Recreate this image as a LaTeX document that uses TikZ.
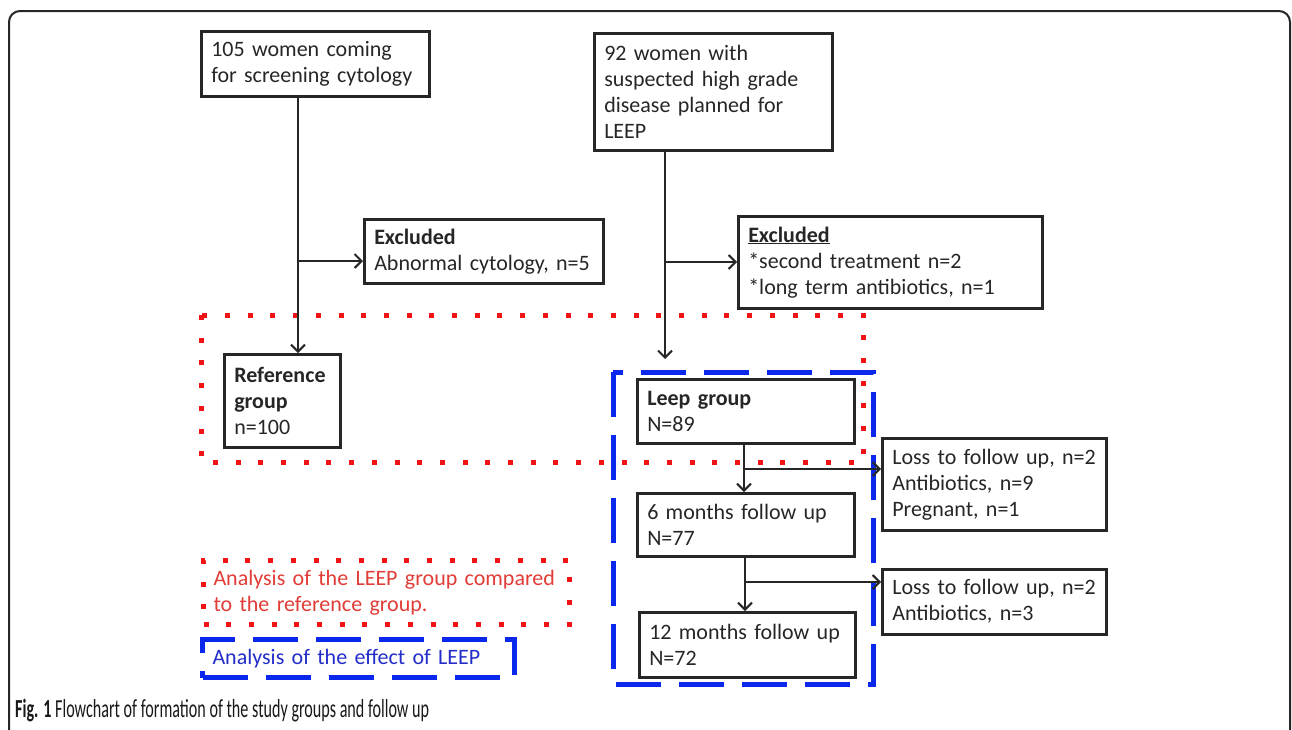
\documentclass[tikz,border=0pt]{standalone}
\usepackage{fontspec}
\setmainfont{Carlito}
\newfontfamily\capfont[FakeStretch=0.62]{Carlito}
\usetikzlibrary{arrows.meta}
\definecolor{dotred}{RGB}{240,20,20}
\definecolor{dashblue}{RGB}{10,40,235}
\definecolor{txtred}{RGB}{225,60,55}
\definecolor{txtblue}{RGB}{35,45,200}
\tikzstyle{box} = [rectangle, draw=black!85, line width=2.5pt, anchor=north west, inner xsep=10pt, inner ysep=0pt, align=left, text=black!85, font=\fontsize{22}{26}\selectfont]
\tikzstyle{arrow} = [line width=2pt, draw=black!85, -{Straight Barb[length=7pt,width=14pt]}]
\tikzstyle{reddots} = [draw=dotred, line width=5pt, dash pattern=on 5pt off 17.7pt]
\tikzstyle{bluedash} = [draw=dashblue, line width=5pt, dash pattern=on 45pt off 18pt]
\begin{document}
\begin{tikzpicture}[x=1pt, y=-1pt]
\useasboundingbox (0,0) rectangle (1292,729);
\clip (0,0) rectangle (1292,729);
\draw[line width=2pt, draw=black!85, rounded corners=11pt] (9,740) -- (9,11) -- (1290,11) -- (1290,740);

% FRAMES
\draw[reddots] (201,315) rectangle (863,462);
\draw[bluedash] (613,372) rectangle (873,684);

% NODES
\node (screening) [box, minimum width=228pt, minimum height=65pt, text width=208pt] at (200,30) {105 women coming\\for screening cytology};
\node (excl-screen) [box, minimum width=239pt, minimum height=64pt, text width=219pt] at (363,218) {\textbf{Excluded}\\Abnormal cytology, n=5};
\node (refgroup) [box, minimum width=116pt, minimum height=93pt, text width=96pt] at (223,353) {\textbf{Reference}\\\textbf{group}\\n=100};

\node (highgrade) [box, minimum width=238pt, minimum height=117pt, text width=218pt] at (593,32) {92 women with\\suspected high grade\\disease planned for\\LEEP};
\node (excl-leep) [box, minimum width=304pt, minimum height=92pt, text width=284pt] at (737,215) {\underline{\textbf{Excluded}}\\{*}second treatment n=2\\{*}long term antibiotics, n=1};

\node (leep) [box, minimum width=217pt, minimum height=64pt, text width=197pt] at (636,378) {\textbf{Leep group}\\N=89};
\node (six) [box, minimum width=217pt, minimum height=63pt, text width=197pt] at (636,492) {6 months follow up\\N=77};
\node (twelve) [box, minimum width=216pt, minimum height=65pt, text width=196pt] at (638,611) {12 months follow up\\N=72};
\node (lost-six) [box, minimum width=224pt, minimum height=92pt, text width=204pt] at (881,437) {Loss to follow up, n=2\\Antibiotics, n=9\\Pregnant, n=1};
\node (lost-twelve) [box, minimum width=224pt, minimum height=65pt, text width=204pt] at (881,568) {Loss to follow up, n=2\\Antibiotics, n=3};

\node (leg-red) [box, reddots, text=txtred, minimum width=366pt, minimum height=64pt, text width=346pt, inner xsep=10pt] at (201,558) {Analysis of the LEEP group compared\\to the reference group.};
\node (leg-blue) [box, bluedash, text=txtblue, minimum width=312pt, minimum height=38pt, text width=292pt, inner xsep=10pt] at (200,637) {Analysis of the effect of LEEP};

\node (caption) [anchor=west, inner sep=0pt, text=black!90, font=\capfont\fontsize{26}{28}\selectfont] at (15,711) {\textbf{Fig. 1} Flowchart of formation of the study groups and follow up};

\coordinate (split1) at (298,261);
\coordinate (split2) at (665,262);
\coordinate (split3) at (744,469);
\coordinate (split4) at (745,582);

% ARROWS
\draw [arrow] (screening.south -| split1) -- (refgroup.north -| split1);
\draw [arrow] (split1) -- (split1 -| excl-screen.west);

\draw [arrow, shorten >=19pt] (highgrade.south -| split2) -- (leep.north -| split2);
\draw [arrow] (split2) -- (split2 -| excl-leep.west);

\draw [arrow] (leep.south -| split3) -- (six.north -| split3);
\draw [arrow] (split3) -- (split3 -| lost-six.west);

\draw [arrow] (six.south -| split4) -- (twelve.north -| split4);
\draw [arrow] (split4) -- (split4 -| lost-twelve.west);
\end{tikzpicture}
\end{document}
